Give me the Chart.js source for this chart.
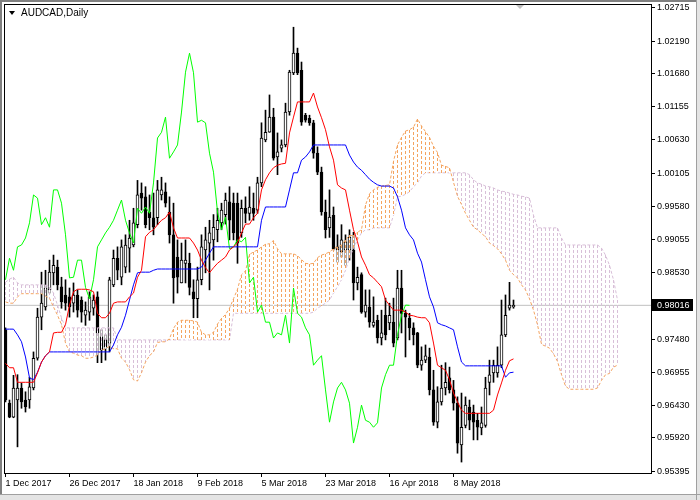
<!DOCTYPE html>
<html>
<head>
<meta charset="utf-8">
<script src="https://cdn.jsdelivr.net/npm/chart.js@4.4.1/dist/chart.umd.min.js"></script>
<style>
  html, body { margin: 0; padding: 0; background: #fff; }
  canvas { display: block; }
</style>
</head>
<body>
<canvas id="chart" width="700" height="500"></canvas>
<script>
// AUDCAD daily candles
const opens = [
  0.9763,0.9647,0.9625,0.9652,0.9671,0.9652,0.9652,0.9671,0.9718,0.9783,
  0.9799,0.9826,0.9853,0.9862,0.9831,0.9818,0.9815,0.9805,0.9818,0.9810,
  0.9786,0.9791,0.9797,0.9815,0.9752,0.9747,0.9742,0.9834,0.9876,0.9846,
  0.9862,0.9892,0.9897,0.9929,0.9979,0.9973,0.9949,0.9940,0.9940,0.9976,
  0.9981,0.9949,0.9913,0.9878,0.9837,0.9868,0.9868,0.9823,0.9812,0.9842,
  0.9889,0.9900,0.9905,0.9921,0.9932,0.9945,0.9965,0.9963,0.9963,0.9916,
  0.9955,0.9947,0.9955,0.9952,0.9995,1.0063,1.0075,1.0099,1.0036,1.0050,
  1.0055,1.0107,1.0169,1.0200,1.0173,1.0102,1.0097,1.0090,1.0042,1.0012,
  0.9949,0.9924,0.9944,0.9889,0.9886,0.9889,0.9889,0.9889,0.9837,0.9850,
  0.9791,0.9799,0.9770,0.9778,0.9750,0.9786,0.9774,0.9775,0.9750,0.9829,
  0.9789,0.9781,0.9766,0.9758,0.9707,0.9715,0.9720,0.9668,0.9617,0.9649,
  0.9671,0.9687,0.9668,0.9647,0.9581,0.9612,0.9641,0.9633,0.9620,0.9608,
  0.9612,0.9680,0.9695,0.9695,0.9707,0.9755,0.9797,0.9799
];
const highs = [
  0.9766,0.9652,0.9691,0.9692,0.9679,0.9665,0.9688,0.9728,0.9797,0.9854,
  0.9857,0.9873,0.9881,0.9873,0.9846,0.9842,0.9829,0.9837,0.9826,0.9815,
  0.9807,0.9823,0.9818,0.9823,0.9763,0.9755,0.9846,0.9889,0.9894,0.9905,
  0.9913,0.9936,0.9955,0.9999,0.9995,0.9989,0.9976,0.9979,0.9999,1.0004,
  0.9995,0.9973,0.9963,0.9905,0.9900,0.9905,0.9884,0.9842,0.9862,0.9913,
  0.9925,0.9936,0.9945,0.9955,0.9963,0.9979,0.9989,0.9979,0.9979,0.9968,
  0.9973,0.9989,0.9979,1.0004,1.0090,1.0110,1.0134,1.0113,1.0074,1.0063,
  1.0121,1.0173,1.0241,1.0208,1.0186,1.0105,1.0102,1.0094,1.0052,1.0020,
  0.9968,0.9984,0.9957,0.9913,0.9929,0.9913,0.9921,0.9917,0.9862,0.9853,
  0.9826,0.9826,0.9815,0.9786,0.9794,0.9813,0.9805,0.9813,0.9857,0.9857,
  0.9794,0.9789,0.9774,0.9759,0.9736,0.9739,0.9734,0.9699,0.9673,0.9707,
  0.9711,0.9704,0.9683,0.9657,0.9663,0.9657,0.9652,0.9644,0.9631,0.9641,
  0.9688,0.9715,0.9715,0.9736,0.9810,0.9818,0.9838,0.9810
];
const lows = [
  0.9649,0.9624,0.9624,0.9578,0.9639,0.9633,0.9639,0.9668,0.9715,0.9763,
  0.9794,0.9821,0.9834,0.9826,0.9797,0.9794,0.9783,0.9791,0.9783,0.9775,
  0.9770,0.9778,0.9786,0.9711,0.9711,0.9715,0.9728,0.9831,0.9842,0.9834,
  0.9853,0.9854,0.9894,0.9924,0.9952,0.9924,0.9921,0.9913,0.9929,0.9968,
  0.9957,0.9900,0.9805,0.9821,0.9837,0.9837,0.9818,0.9782,0.9782,0.9834,
  0.9853,0.9826,0.9873,0.9902,0.9921,0.9930,0.9905,0.9905,0.9868,0.9909,
  0.9932,0.9936,0.9936,0.9947,0.9989,1.0060,1.0075,1.0031,1.0008,1.0044,
  1.0052,1.0102,1.0166,1.0166,1.0086,1.0091,1.0086,1.0034,1.0008,0.9944,
  0.9908,0.9909,0.9889,0.9870,0.9878,0.9865,0.9873,0.9810,0.9826,0.9789,
  0.9783,0.9767,0.9767,0.9742,0.9739,0.9747,0.9763,0.9736,0.9747,0.9758,
  0.9720,0.9747,0.9739,0.9703,0.9699,0.9711,0.9660,0.9612,0.9608,0.9644,
  0.9660,0.9663,0.9636,0.9568,0.9554,0.9608,0.9605,0.9589,0.9589,0.9597,
  0.9609,0.9660,0.9680,0.9688,0.9703,0.9752,0.9794,0.9797
];
const closes = [
  0.9652,0.9625,0.9671,0.9671,0.9649,0.9641,0.9673,0.9718,0.9783,0.9805,
  0.9829,0.9854,0.9865,0.9834,0.9807,0.9805,0.9799,0.9818,0.9794,0.9791,
  0.9794,0.9815,0.9810,0.9758,0.9731,0.9736,0.9842,0.9876,0.9857,0.9894,
  0.9897,0.9908,0.9932,0.9976,0.9971,0.9929,0.9940,0.9925,0.9984,0.9984,
  0.9963,0.9913,0.9845,0.9846,0.9873,0.9873,0.9830,0.9812,0.9842,0.9894,
  0.9905,0.9916,0.9925,0.9936,0.9952,0.9968,0.9936,0.9916,0.9900,0.9955,
  0.9947,0.9957,0.9947,0.9995,1.0066,1.0075,1.0099,1.0034,1.0044,1.0055,
  1.0107,1.0170,1.0200,1.0169,1.0091,1.0094,1.0090,1.0042,1.0012,0.9949,
  0.9921,0.9941,0.9891,0.9894,0.9905,0.9902,0.9909,0.9837,0.9846,0.9791,
  0.9802,0.9775,0.9775,0.9750,0.9758,0.9755,0.9786,0.9742,0.9829,0.9789,
  0.9783,0.9766,0.9755,0.9707,0.9715,0.9722,0.9668,0.9617,0.9649,0.9671,
  0.9680,0.9668,0.9647,0.9584,0.9609,0.9644,0.9620,0.9617,0.9609,0.9616,
  0.9671,0.9692,0.9707,0.9707,0.9755,0.9786,0.9802,0.98016
];

// Ichimoku lines as drawn
const tenkan = [
  0.9710,0.9703,0.9703,0.9680,0.9680,0.9680,0.9680,0.9680,0.9695,0.9712,
  0.9722,0.9728,0.9758,0.9759,0.9759,0.9771,0.9802,0.9823,0.9827,0.9827,
  0.9827,0.9826,0.9823,0.9789,0.9782,0.9782,0.9789,0.9805,0.9807,0.9807,
  0.9807,0.9815,0.9821,0.9846,0.9857,0.9910,0.9917,0.9921,0.9929,0.9936,
  0.9940,0.9949,0.9924,0.9908,0.9908,0.9908,0.9908,0.9900,0.9889,0.9873,
  0.9861,0.9853,0.9861,0.9868,0.9873,0.9878,0.9889,0.9894,0.9900,0.9916,
  0.9930,0.9930,0.9940,0.9947,0.9984,1.0000,1.0011,1.0019,1.0023,1.0025,
  1.0026,1.0074,1.0099,1.0123,1.0123,1.0123,1.0123,1.0137,1.0115,1.0098,
  1.0079,1.0052,1.0031,0.9992,0.9987,0.9984,0.9952,0.9921,0.9902,0.9878,
  0.9865,0.9850,0.9845,0.9838,0.9831,0.9810,0.9802,0.9794,0.9794,0.9794,
  0.9791,0.9786,0.9785,0.9783,0.9782,0.9782,0.9774,0.9742,0.9707,0.9703,
  0.9699,0.9684,0.9663,0.9649,0.9636,0.9631,0.9631,0.9631,0.9631,0.9631,
  0.9631,0.9631,0.9636,0.9660,0.9679,0.9699,0.9714,0.9717
];
const kijun = [
  0.9764,0.9764,0.9764,0.9755,0.9744,0.9720,0.9687,0.9684,0.9696,0.9712,
  0.9722,0.9728,0.9728,0.9728,0.9728,0.9728,0.9728,0.9728,0.9728,0.9728,
  0.9728,0.9728,0.9728,0.9728,0.9728,0.9728,0.9728,0.9739,0.9755,0.9767,
  0.9786,0.9810,0.9834,0.9853,0.9854,0.9854,0.9854,0.9857,0.9859,0.9859,
  0.9859,0.9859,0.9859,0.9859,0.9859,0.9859,0.9859,0.9859,0.9859,0.9862,
  0.9873,0.9884,0.9894,0.9894,0.9894,0.9894,0.9894,0.9894,0.9894,0.9894,
  0.9894,0.9894,0.9894,0.9894,0.9936,0.9957,0.9957,0.9957,0.9957,0.9957,
  0.9957,0.9984,1.0011,1.0011,1.0031,1.0036,1.0044,1.0055,1.0055,1.0055,
  1.0055,1.0055,1.0055,1.0055,1.0055,1.0055,1.0039,1.0028,1.0020,1.0015,
  1.0008,1.0001,0.9996,0.9992,0.9990,0.9990,0.9990,0.9987,0.9973,0.9952,
  0.9924,0.9913,0.9905,0.9884,0.9870,0.9842,0.9815,0.9799,0.9774,0.9771,
  0.9769,0.9766,0.9763,0.9736,0.9712,0.9706,0.9706,0.9706,0.9706,0.9706,
  0.9706,0.9706,0.9706,0.9706,0.9706,0.9688,0.9695,0.9696
];
const spanA = [
  0.9807,0.9805,0.9805,0.9815,0.9820,0.9820,0.9820,0.9820,0.9820,0.9820,
  0.9816,0.9813,0.9799,0.9786,0.9771,0.9742,0.9728,0.9726,0.9723,0.9722,
  0.9718,0.9718,0.9720,0.9723,0.9731,0.9733,0.9737,0.9733,0.9733,0.9718,
  0.9712,0.9700,0.9684,0.9682,0.9695,0.9712,0.9722,0.9728,0.9743,0.9744,
  0.9744,0.9749,0.9765,0.9775,0.9778,0.9778,0.9778,0.9777,0.9775,0.9759,
  0.9755,0.9755,0.9759,0.9772,0.9781,0.9787,0.9797,0.9812,0.9827,0.9850,
  0.9856,0.9882,0.9886,0.9889,0.9894,0.9898,0.9899,0.9904,0.9891,0.9883,
  0.9883,0.9883,0.9883,0.9880,0.9874,0.9868,0.9867,0.9868,0.9877,0.9881,
  0.9883,0.9886,0.9891,0.9894,0.9897,0.9905,0.9912,0.9912,0.9917,0.9921,
  0.9960,0.9978,0.9984,0.9988,0.9990,0.9991,0.9992,1.0029,1.0055,1.0067,
  1.0077,1.0079,1.0083,1.0096,1.0085,1.0076,1.0067,1.0053,1.0043,1.0023,
  1.0021,1.0019,0.9996,0.9974,0.9961,0.9947,0.9936,0.9925,0.9921,0.9915,
  0.9910,0.9900,0.9896,0.9891,0.9883,0.9873,0.9857,0.9850,0.9845,0.9834,
  0.9826,0.9812,0.9794,0.9771,0.9740,0.9737,0.9734,0.9725,0.9713,0.9692,
  0.9674,0.9669,0.9669,0.9669,0.9669,0.9669,0.9669,0.9669,0.9671,0.9683,
  0.9692,0.9694,0.9704,0.9707
];
const spanB = [
  0.9838,0.9843,0.9846,0.9837,0.9834,0.9834,0.9834,0.9834,0.9834,0.9834,
  0.9834,0.9831,0.9821,0.9802,0.9782,0.9766,0.9766,0.9766,0.9766,0.9766,
  0.9766,0.9766,0.9766,0.9766,0.9766,0.9766,0.9766,0.9766,0.9747,0.9747,
  0.9747,0.9747,0.9747,0.9747,0.9747,0.9747,0.9747,0.9747,0.9747,0.9747,
  0.9747,0.9747,0.9747,0.9747,0.9747,0.9747,0.9747,0.9747,0.9747,0.9747,
  0.9747,0.9747,0.9747,0.9747,0.9747,0.9747,0.9747,0.9789,0.9789,0.9789,
  0.9789,0.9789,0.9789,0.9789,0.9789,0.9789,0.9789,0.9789,0.9789,0.9789,
  0.9789,0.9789,0.9789,0.9789,0.9789,0.9789,0.9789,0.9791,0.9797,0.9801,
  0.9805,0.9810,0.9821,0.9831,0.9842,0.9857,0.9876,0.9892,0.9905,0.9916,
  0.9921,0.9921,0.9924,0.9924,0.9924,0.9924,0.9924,0.9944,0.9973,0.9974,
  0.9977,0.9981,0.9989,0.9995,1.0006,1.0011,1.0011,1.0011,1.0011,1.0011,
  1.0011,1.0011,1.0011,1.0011,1.0011,1.0011,1.0008,1.0000,0.9995,0.9993,
  0.9990,0.9989,0.9987,0.9984,0.9982,0.9981,0.9979,0.9977,0.9976,0.9974,
  0.9973,0.9971,0.9944,0.9924,0.9924,0.9924,0.9924,0.9924,0.9924,0.9908,
  0.9897,0.9897,0.9897,0.9897,0.9897,0.9897,0.9897,0.9897,0.9897,0.9892,
  0.9881,0.9865,0.9842,0.9810
];
const chikouShift = 26;

const dateIdx = [0, 16, 32, 48, 64, 80, 96, 112];
const dateLabels = ['1 Dec 2017', '26 Dec 2017', '18 Jan 2018', '9 Feb 2018',
                    '5 Mar 2018', '23 Mar 2018', '16 Apr 2018', '8 May 2018'];
const priceTicks = [1.02715, 1.02190, 1.01680, 1.01155, 1.00630, 1.00105, 0.99580,
                    0.99055, 0.98530, 0.97480, 0.96955, 0.96430, 0.95920, 0.95395];

const lastPrice = closes[closes.length - 1];
const font = 'Liberation Sans';
const sandy = '#F4A460';
const thistle = '#D8BFD8';

const toPoints = arr => arr.map((v, i) => ({ x: i, y: v }));
const isUp = i => closes[i] >= opens[i];

// kumo: one dotted column per bar between span A and span B
const kumo = {
  id: 'kumo',
  beforeDatasetDraw(chart, args) {
    if (args.index !== 4) return;
    const { ctx, chartArea: a, scales: { x, y } } = chart;
    ctx.save();
    ctx.beginPath();
    ctx.rect(a.left, a.top, a.width, a.height);
    ctx.clip();
    ctx.lineWidth = 1;
    spanA.forEach((va, i) => {
      const vb = spanB[i];
      const px = Math.floor(x.getPixelForValue(i)) + 0.5;
      const y1 = Math.round(y.getPixelForValue(Math.max(va, vb)));
      const y2 = Math.round(y.getPixelForValue(Math.min(va, vb)));
      ctx.setLineDash([]);
      ctx.strokeStyle = '#ffffff';
      ctx.beginPath(); ctx.moveTo(px, y1); ctx.lineTo(px, y2); ctx.stroke();
      ctx.setLineDash([3, 2]);
      ctx.strokeStyle = va >= vb ? sandy : thistle;
      ctx.beginPath(); ctx.moveTo(px, y1); ctx.lineTo(px, y2); ctx.stroke();
    });
    ctx.restore();
  }
};

const decor = {
  id: 'decor',
  afterDraw(chart) {
    const { ctx, chartArea: a, scales: { y } } = chart;
    ctx.save();
    // plot frame, top and left
    ctx.fillStyle = '#000';
    ctx.fillRect(4, 4, a.right - 4, 1);
    ctx.fillRect(4, 4, 1, a.bottom - 4);
    // window edges
    ctx.fillStyle = '#808080';
    ctx.fillRect(0, 0, 700, 2);
    ctx.fillRect(0, 0, 2, 500);
    ctx.fillStyle = '#e4e4e4';
    ctx.fillRect(0, 494, 700, 6);
    ctx.fillRect(696, 0, 4, 500);
    ctx.fillStyle = '#a0a0a0';
    ctx.fillRect(0, 494, 700, 1);
    ctx.fillRect(696, 0, 1, 500);
    // title
    ctx.fillStyle = '#000';
    ctx.beginPath();
    ctx.moveTo(9, 11); ctx.lineTo(15, 11); ctx.lineTo(12, 15); ctx.closePath();
    ctx.fill();
    ctx.font = '10px "' + font + '"';
    ctx.textBaseline = 'middle';
    ctx.fillText('AUDCAD,Daily', 21, 13.5);
    // chart shift marker
    ctx.fillStyle = '#c0c0c0';
    ctx.beginPath();
    ctx.moveTo(516, 5); ctx.lineTo(524, 5); ctx.lineTo(520, 9); ctx.closePath();
    ctx.fill();
    // bid label
    const py = Math.round(y.getPixelForValue(lastPrice));
    ctx.fillStyle = '#000';
    ctx.fillRect(652, py - 6, 41, 12);
    ctx.fillStyle = '#fff';
    ctx.font = '9px "' + font + '"';
    ctx.fillText(lastPrice.toFixed(5), 657, py + 0.5);
    ctx.restore();
  }
};

const datasets = [
  {
    type: 'line', order: 20,
    data: [{ x: -1, y: lastPrice }, { x: 170, y: lastPrice }],
    borderColor: '#c0c0c0', borderWidth: 1, pointRadius: 0
  },
  {
    type: 'bar', order: 10, grouped: false,
    data: lows.map((l, i) => ({ x: i, y: [l, highs[i]] })),
    backgroundColor: '#000', borderWidth: 0, barThickness: 1
  },
  {
    type: 'bar', order: 9, grouped: false,
    data: opens.map((o, i) => ({ x: i, y: [o, closes[i]] })),
    backgroundColor: ctx => isUp(ctx.dataIndex) ? '#ffffff' : '#000000',
    borderColor: '#000', borderWidth: 1, borderSkipped: false, barThickness: 3
  },
  {
    type: 'line', order: 6,
    data: toPoints(spanB),
    borderColor: thistle, borderWidth: 1, borderDash: [3, 2], pointRadius: 0
  },
  {
    type: 'line', order: 5,
    data: toPoints(spanA),
    borderColor: sandy, borderWidth: 1, borderDash: [3, 2], pointRadius: 0
  },
  {
    type: 'line', order: 3,
    data: closes.slice(chikouShift).map((v, i) => ({ x: i, y: v })),
    borderColor: '#00FF00', borderWidth: 1, pointRadius: 0
  },
  {
    type: 'line', order: 2,
    data: toPoints(kijun),
    borderColor: '#0000FF', borderWidth: 1, pointRadius: 0
  },
  {
    type: 'line', order: 1,
    data: toPoints(tenkan),
    borderColor: '#FF0000', borderWidth: 1, pointRadius: 0
  }
];

new Chart(document.getElementById('chart'), {
  type: 'bar',
  data: { datasets },
  options: {
    responsive: false,
    animation: false,
    layout: { padding: { left: 4, top: 4, right: 0, bottom: 0 } },
    plugins: { legend: { display: false }, tooltip: { enabled: false } },
    elements: { line: { tension: 0 } },
    scales: {
      x: {
        type: 'linear', offset: false,
        min: -0.375, max: 161.375,
        afterBuildTicks: s => { s.ticks = dateIdx.map(v => ({ value: v })); },
        afterFit: s => { s.height = 27; s.paddingLeft = 0; s.paddingRight = 0; },
        ticks: {
          autoSkip: false, maxRotation: 0, align: 'start', padding: 1,
          color: '#000', font: { family: font, size: 9 },
          callback: (v, i) => dateLabels[i]
        },
        grid: { offset: false, drawOnChartArea: false, tickLength: 4, color: '#000' },
        border: { color: '#000' }
      },
      y: {
        type: 'linear', position: 'right',
        min: 0.95367, max: 1.02777,
        afterBuildTicks: s => { s.ticks = priceTicks.map(v => ({ value: v })); },
        afterFit: s => { s.width = 49; s.paddingTop = 0; s.paddingBottom = 0; },
        ticks: {
          autoSkip: false, padding: 2,
          color: '#000', font: { family: font, size: 9 },
          callback: v => v.toFixed(5)
        },
        grid: { drawOnChartArea: false, tickLength: 4, color: '#000' },
        border: { color: '#000' }
      }
    }
  },
  plugins: [kumo, decor]
});
</script>
</body>
</html>
